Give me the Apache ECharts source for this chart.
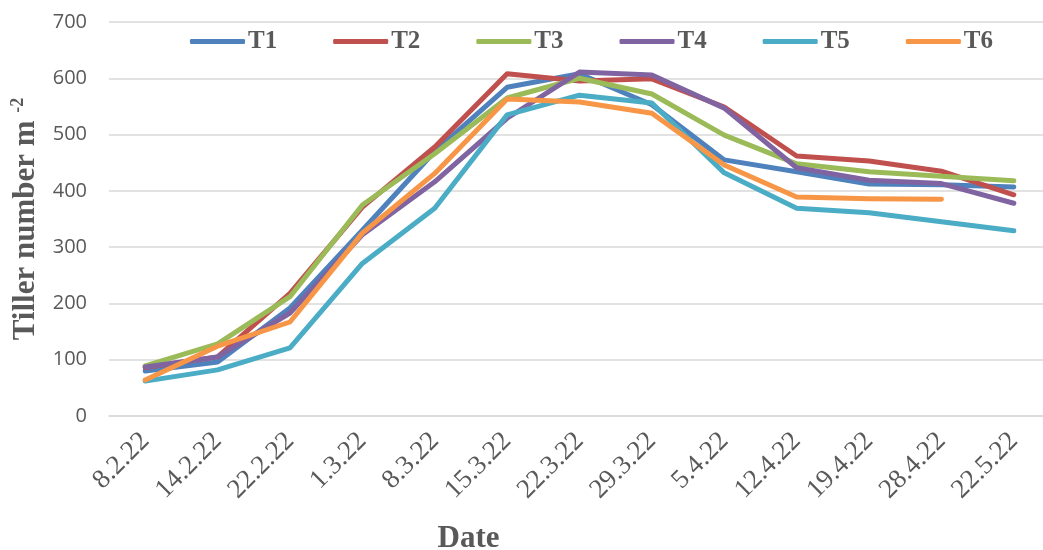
<!DOCTYPE html>
<html>
<head>
<meta charset="utf-8">
<script src="https://cdn.jsdelivr.net/npm/echarts@6/dist/echarts.min.js"></script>
<style>html,body{margin:0;padding:0;background:#fff}#c{width:1043px;height:550px}</style>
</head>
<body>
<div id="c"></div>
<script>
const categories = ['8.2.22','14.2.22','22.2.22','1.3.22','8.3.22','15.3.22','22.3.22','29.3.22','5.4.22','12.4.22','19.4.22','28.4.22','22.5.22'];
const T1 = [80, 96, 192, 330, 470, 584, 608, 553, 455, 434, 412, 411, 407];
const T2 = [86, 105, 218, 371, 478, 608, 595, 599, 549, 462, 453, 435, 393];
const T3 = [89, 128, 212, 375, 466, 565, 600, 572, 499, 448, 434, 426, 418];
const T4 = [87, 105, 183, 322, 416, 529, 611, 606, 547, 441, 419, 413, 378];
const T5 = [62, 82, 121, 271, 369, 535, 570, 556, 432, 369, 361, 345, 329];
const T6 = [64, 124, 167, 325, 431, 563, 558, 538, 446, 389, 386, 385, null];
const seriesNames = ['T1','T2','T3','T4','T5','T6'];
const seriesData = [T1, T2, T3, T4, T5, T6];
const colors = ['#4F81BD','#C0504D','#9BBB59','#8064A2','#4BACC6','#F79646'];

const chart = echarts.init(document.getElementById('c'));
chart.setOption({
  animation: false,
  color: colors,
  legend: {
    data: seriesNames,
    left: 185, top: 24,
    icon: 'roundRect',
    itemWidth: 55, itemHeight: 5,
    itemGap: 56,
    textStyle: {fontFamily: 'Liberation Serif', fontWeight: 'bold', fontSize: 25, color: '#595959', padding: [3,0,0,-2]}
  },
  grid: {left: 109, top: 22, width: 941, height: 394, containLabel: false, outerBoundsMode: 'none'},
  xAxis: {
    type: 'category',
    data: categories,
    boundaryGap: true,
    name: 'Date',
    nameLocation: 'middle',
    nameGap: 107,
    nameTextStyle: {fontFamily: 'Liberation Serif', fontWeight: 'bold', fontSize: 31, color: '#595959', padding: [0, 222, 0, 0]},
    axisLine: {show: true, lineStyle: {color: '#d9d9d9', width: 1.5}},
    axisTick: {show: false},
    axisLabel: {rotate: 45, fontFamily: 'Liberation Serif', fontSize: 27, color: '#595959', margin: 21}
  },
  yAxis: {
    type: 'value',
    min: 0, max: 700, interval: 100,
    name: 'Tiller number m {sup|-2}',
    nameLocation: 'middle',
    nameGap: 64,
    nameRotate: 90,
    nameTextStyle: {fontFamily: 'Liberation Serif', fontWeight: 'bold', fontSize: 31, color: '#595959',
      rich: {sup: {fontFamily: 'Liberation Serif', fontWeight: 'bold', fontSize: 18, color: '#595959', verticalAlign: 'top', lineHeight: 34}}},
    axisLine: {show: false},
    axisTick: {show: false},
    splitLine: {lineStyle: {color: '#d9d9d9', width: 1.5}},
    axisLabel: {fontFamily: 'Open Sans', fontSize: 20, color: '#595959', margin: 22}
  },
  series: seriesNames.map((n, i) => ({
    name: n, type: 'line', data: seriesData[i],
    symbol: 'none', smooth: false,
    lineStyle: {width: 5, color: colors[i], cap: 'round', join: 'round'},
    itemStyle: {color: colors[i]}
  }))
});
</script>
</body>
</html>
